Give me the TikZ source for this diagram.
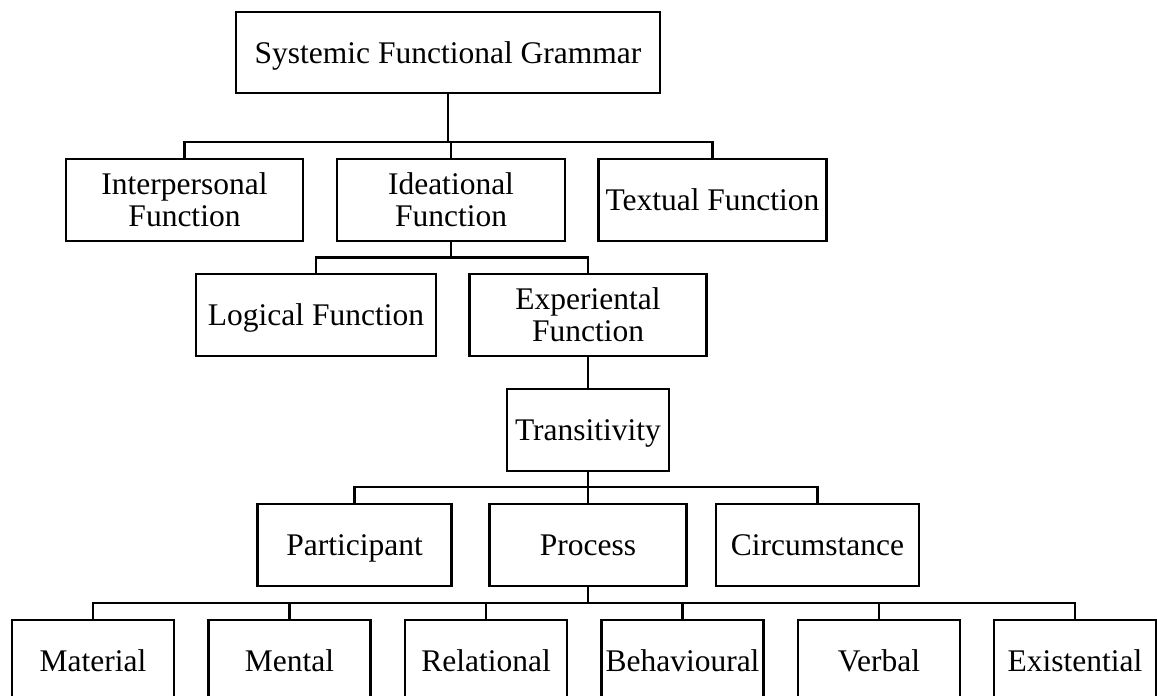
\documentclass[tikz,border=0pt]{standalone}
\usepackage{fontspec}
\setmainfont{Liberation Serif}
\newcommand\cln[1]{\rule{0pt}{21pt}\smash{#1}}
\begin{document}
\begin{tikzpicture}[x=1pt,y=-1pt,
  box/.style={draw=black, line width=2.8pt, inner sep=0pt, align=center,
    font=\fontsize{31.5}{32}\selectfont, minimum height=82pt},
  link/.style={draw=black, line width=2.5pt}]
\clip (0,0) rectangle (1157,696);
\fill[white] (0,0) rectangle (1157,696);
% nodes
\node[box, minimum width=424pt, minimum height=81pt] (sfg) at (448,52.5) {\cln{Systemic Functional Grammar}};
\node[box, minimum width=237pt] (inter) at (184.5,200) {\cln{Interpersonal}\\\cln{Function}};
\node[box, minimum width=228pt] (ideat) at (451,200) {\cln{Ideational}\\\cln{Function}};
\node[box, minimum width=228pt] (textual) at (712.5,200) {\cln{Textual Function}};
\node[box, minimum width=240pt] (logic) at (316,315) {\cln{Logical Function}};
\node[box, minimum width=237pt] (exper) at (588,315) {\cln{Experiental}\\\cln{Function}};
\node[box, minimum width=162pt] (trans) at (588,430) {\cln{Transitivity}};
\node[box, minimum width=194pt] (part) at (354.5,545) {\cln{Participant}};
\node[box, minimum width=197pt] (proc) at (588,545) {\cln{Process}};
\node[box, minimum width=203pt] (circ) at (817.5,545) {\cln{Circumstance}};
\node[box, minimum width=162pt] (mat) at (93,661) {\cln{Material}};
\node[box, minimum width=162pt] (ment) at (289.5,661) {\cln{Mental}};
\node[box, minimum width=162pt] (rel) at (486,661) {\cln{Relational}};
\node[box, minimum width=162pt] (beh) at (682.5,661) {\cln{Behavioural}};
\node[box, minimum width=162pt] (verb) at (879,661) {\cln{Verbal}};
\node[box, minimum width=162pt] (exist) at (1075,661) {\cln{Existential}};
% junction levels
\coordinate (j1) at (0,142);
\coordinate (j2) at (0,257.5);
\coordinate (j3) at (0,487);
\coordinate (j4) at (0,603);
% connectors
\draw[link] (sfg.south) -- (sfg.south |- j1);
\draw[link] (inter.north) |- (textual.north |- j1) -- (textual.north);
\draw[link] (ideat.north) -- (ideat.north |- j1);
\draw[link] (ideat.south) -- (ideat.south |- j2);
\draw[link] (logic.north) |- (exper.north |- j2) -- (exper.north);
\draw[link] (exper.south) -- (trans.north);
\draw[link] (trans.south) -- (trans.south |- j3);
\draw[link] (part.north) |- (circ.north |- j3) -- (circ.north);
\draw[link] (proc.north) -- (proc.north |- j3);
\draw[link] (proc.south) -- (proc.south |- j4);
\draw[link] (mat.north) |- (exist.north |- j4) -- (exist.north);
\draw[link] (ment.north) -- (ment.north |- j4);
\draw[link] (rel.north) -- (rel.north |- j4);
\draw[link] (beh.north) -- (beh.north |- j4);
\draw[link] (verb.north) -- (verb.north |- j4);
\end{tikzpicture}
\end{document}
